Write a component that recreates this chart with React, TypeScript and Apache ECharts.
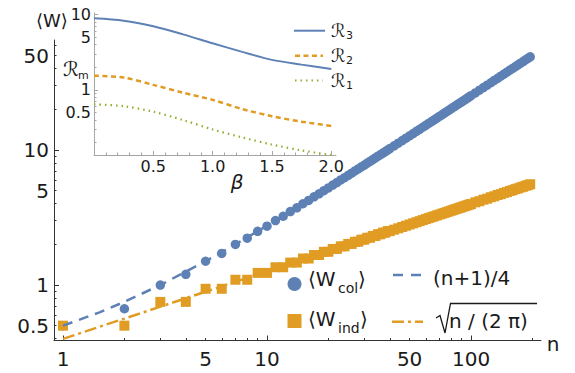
import React, { useEffect, useRef } from 'react';
import * as echarts from 'echarts';

// ---------- data ----------
const nValues = [
  1, 2, 3, 4, 5, 6, 7, 8, 9, 10, 11, 12, 13, 14, 15, 16, 17, 18, 19, 20,
  21, 22, 23, 24, 25, 26, 27, 28, 29, 30, 31, 32, 33, 34, 35, 36, 37, 38, 39, 40,
  42, 44, 46, 48, 50, 52, 54, 56, 58, 60, 62, 64, 66, 68, 70, 72, 74, 76, 78, 80,
  82, 84, 86, 88, 90, 92, 94, 96, 98, 100,
  105, 110, 115, 120, 125, 130, 135, 140, 145, 150, 155, 160, 165, 170, 175, 180, 185, 190, 195,
];
const wCol = [
  0.5, 0.667, 1, 1.2, 1.5, 1.714, 2, 2.222, 2.5, 2.727, 3, 3.231, 3.5, 3.733, 4, 4.235, 4.5, 4.737, 5, 5.238,
  5.5, 5.739, 6, 6.24, 6.5, 6.741, 7, 7.241, 7.5, 7.742, 8, 8.242, 8.5, 8.743, 9, 9.243, 9.5, 9.744, 10, 10.244,
  10.744, 11.244, 11.745, 12.245, 12.745, 13.245, 13.745, 14.246, 14.746, 15.246, 15.746, 16.246, 16.746, 17.246, 17.746,
  18.247, 18.747, 19.247, 19.747, 20.247, 20.747, 21.247, 21.747, 22.247, 22.747, 23.247, 23.747, 24.247, 24.747, 25.248,
  26.5, 27.748, 29, 30.248, 31.5, 32.748, 34, 35.248, 36.5, 37.748, 39, 40.248, 41.5, 42.749, 44, 45.249, 46.5, 47.749, 49,
];
const wInd = [
  0.5, 0.5, 0.75, 0.75, 0.938, 0.938, 1.094, 1.094, 1.23, 1.23, 1.354, 1.354, 1.466, 1.466, 1.571, 1.571, 1.669, 1.669, 1.762, 1.762,
  1.85, 1.85, 1.934, 1.934, 2.015, 2.015, 2.092, 2.092, 2.167, 2.167, 2.239, 2.239, 2.309, 2.309, 2.377, 2.377, 2.443, 2.443, 2.507, 2.507,
  2.57, 2.631, 2.691, 2.75, 2.807, 2.863, 2.918, 2.972, 3.025, 3.077, 3.129, 3.179, 3.229, 3.278, 3.326,
  3.374, 3.42, 3.467, 3.512, 3.557, 3.602, 3.646, 3.689, 3.732, 3.774, 3.816, 3.858, 3.899, 3.939, 3.979,
  4.098, 4.175, 4.288, 4.361, 4.469, 4.54, 4.644, 4.712, 4.812, 4.878, 4.975, 5.038, 5.132, 5.194, 5.285, 5.345, 5.434, 5.492, 5.578,
];
const fitN = [1, 1.5, 2, 3, 5, 7, 10, 20, 50, 100, 195];
const fitCol = [0.5, 0.625, 0.75, 1, 1.5, 2, 2.75, 5.25, 12.75, 25.25, 49];
const fitInd = [0.399, 0.489, 0.564, 0.691, 0.892, 1.056, 1.262, 1.784, 2.821, 3.989, 5.571];

const xTickLabels = [1, 5, 10, 50, 100];
const xMajorTicks = [1, 10, 100];
const xMinorTicks = [2, 3, 4, 5, 6, 7, 8, 9, 20, 30, 40, 50, 60, 70, 80, 90, 200];
const yTickLabels = [0.5, 1, 5, 10, 50];
const yMajorTicks = [1, 10];
const yMinorTicks = [0.4, 0.5, 0.6, 0.7, 0.8, 0.9, 2, 3, 4, 5, 6, 7, 8, 9, 20, 30, 40, 50, 60];

const beta = [0, 0.25, 0.5, 0.75, 1.0, 1.25, 1.5, 1.75, 2.0];
const r3 = [8.93, 8.3, 7.0, 5.47, 4.16, 3.2, 2.51, 2.17, 1.9];
const r2 = [1.55, 1.46, 1.17, 0.92, 0.74, 0.558, 0.449, 0.38, 0.333];
const r1 = [0.646, 0.61, 0.515, 0.4, 0.3, 0.235, 0.189, 0.158, 0.137];
const insetXLabels = [0.5, 1, 1.5, 2];
const insetXMinor = [0.1, 0.2, 0.3, 0.4, 0.6, 0.7, 0.8, 0.9, 1.1, 1.2, 1.3, 1.4, 1.6, 1.7, 1.8, 1.9];
const insetYLabels = [0.5, 1, 5, 10];
const insetYMajor = [1, 10];
const insetYMinor = [0.2, 0.3, 0.4, 0.5, 0.6, 0.7, 0.8, 0.9, 2, 3, 4, 5, 6, 7, 8, 9];

// ---------- styling ----------
const FONT = '"DejaVu Sans", sans-serif';
const BLUE = '#5E81B5';
const ORANGE = '#E19C24';
const GREEN = '#8FB032';
const TEXT = '#1a1a1a';
const AXIS = '#333333';
const INSET_AXIS = '#a6a6a6';

const lg = (v: number) => Math.log10(v);
const logFmt = (v: number) => String(Number(Math.pow(10, v).toPrecision(2)));

function axisSet(
  dim: 'x' | 'y', gridIndex: number, min: number, max: number,
  labelVals: number[], fmt: (v: number) => string, majors: number[], minors: number[],
  color: string, labelSize: number, margin: number, majorLen: number, minorLen: number,
) {
  const base: any = {
    type: 'value', gridIndex, position: dim === 'x' ? 'bottom' : 'left', min, max,
    splitLine: { show: false }, axisPointer: { show: false },
  };
  return [
    {
      ...base,
      axisLine: { show: true, onZero: false, lineStyle: { color, width: 1 } },
      axisTick: { show: true, inside: true, length: majorLen, customValues: majors, lineStyle: { color, width: 1 } },
      axisLabel: { show: true, customValues: labelVals, formatter: fmt, fontFamily: FONT, fontSize: labelSize, color: TEXT, margin },
    },
    {
      ...base,
      axisLine: { show: false, onZero: false },
      axisTick: { show: true, inside: true, length: minorLen, customValues: minors, lineStyle: { color, width: 1 } },
      axisLabel: { show: false },
    },
  ];
}

function txt(text: string, x: number, y: number, size: number, extra: any = {}) {
  return {
    type: 'text', x, y, silent: true,
    style: { text, fontFamily: FONT, fontSize: size, fill: TEXT, align: 'left', verticalAlign: 'middle', ...extra },
  };
}
function seg(x1: number, y1: number, x2: number, y2: number, stroke: string, lineWidth: number, lineDash?: number[]) {
  return { type: 'line', silent: true, shape: { x1, y1, x2, y2 }, style: { stroke, lineWidth, lineDash } };
}

export default function App() {
  const ref = useRef<HTMLDivElement>(null);
  useEffect(() => {
    const chart = echarts.init(ref.current!, null, { renderer: 'svg' });

    const mainX = axisSet('x', 0, -0.0441, 2.343, xTickLabels.map(lg), logFmt, xMajorTicks.map(lg), xMinorTicks.map(lg), AXIS, 20, 8, 5, 2.5);
    const mainY = axisSet('y', 0, -0.411, 1.815, yTickLabels.map(lg), logFmt, yMajorTicks.map(lg), yMinorTicks.map(lg), AXIS, 20, 5, 5, 2.5);
    const insX = axisSet('x', 1, 0, 2.04, insetXLabels, (v: number) => v.toFixed(1), insetXLabels, insetXMinor, INSET_AXIS, 16, 3, 4, 2.5);
    const insY = axisSet('y', 1, -0.862, 1.021, insetYLabels.map(lg), logFmt, insetYMajor.map(lg), insetYMinor.map(lg), INSET_AXIS, 16, 3, 4, 2.5);

    const option: any = {
      animation: false,
      backgroundColor: '#ffffff',
      grid: [
        { left: 54, top: 40, width: 487, height: 300.5, outerBoundsMode: 'none', containLabel: false },
        { left: 94, top: 13, width: 242, height: 142, outerBoundsMode: 'none', containLabel: false },
      ],
      xAxis: [...mainX, ...insX],
      yAxis: [...mainY, ...insY],
      series: [
        {
          type: 'line', xAxisIndex: 0, yAxisIndex: 0, symbol: 'none', silent: true, z: 3,
          data: fitN.map((n, i) => [lg(n), lg(fitCol[i])]),
          lineStyle: { color: BLUE, width: 2.5, type: [10, 7] },
        },
        {
          type: 'line', xAxisIndex: 0, yAxisIndex: 0, symbol: 'none', silent: true, z: 3,
          data: fitN.map((n, i) => [lg(n), lg(fitInd[i])]),
          lineStyle: { color: ORANGE, width: 2.5, type: [12, 4, 3, 4] },
        },
        {
          type: 'scatter', xAxisIndex: 0, yAxisIndex: 0, symbol: 'circle', symbolSize: 9.5, silent: true, z: 2,
          data: nValues.map((n, i) => [lg(n), lg(wCol[i])]),
          itemStyle: { color: BLUE, opacity: 1 },
        },
        {
          type: 'scatter', xAxisIndex: 0, yAxisIndex: 0, symbol: 'rect', symbolSize: 10, silent: true, z: 2,
          data: nValues.map((n, i) => [lg(n), lg(wInd[i])]),
          itemStyle: { color: ORANGE, opacity: 1 },
        },
        {
          type: 'line', xAxisIndex: 2, yAxisIndex: 2, symbol: 'none', silent: true, smooth: 0.3,
          data: beta.map((b, i) => [b, lg(r3[i])]),
          lineStyle: { color: BLUE, width: 2 },
        },
        {
          type: 'line', xAxisIndex: 2, yAxisIndex: 2, symbol: 'none', silent: true, smooth: 0.3,
          data: beta.map((b, i) => [b, lg(r2[i])]),
          lineStyle: { color: ORANGE, width: 2.5, type: [5, 3.5] },
        },
        {
          type: 'line', xAxisIndex: 2, yAxisIndex: 2, symbol: 'none', silent: true, smooth: 0.3,
          data: beta.map((b, i) => [b, lg(r1[i])]),
          lineStyle: { color: GREEN, width: 2.2, type: [1.5, 4] },
        },
      ],
      graphic: [
        // axis titles
        txt('\u27E8W\u27E9', 36, 20, 18),
        txt('\u211B', 63, 69, 20),
        txt('m', 78, 75, 11),
        txt('\u03B2', 237, 182, 20, { align: 'center', fontStyle: 'italic' }),
        txt('n', 553, 344, 20, { align: 'center' }),
        // inset legend
        seg(294, 30.7, 325, 30.7, BLUE, 2),
        seg(295, 55.7, 323, 55.7, ORANGE, 2.5, [5, 3.5]),
        seg(295, 80.5, 323, 80.5, GREEN, 2.2, [1.5, 4]),
        txt('\u211B', 331, 30, 18),
        txt('3', 346, 35, 11),
        txt('\u211B', 331, 55.5, 18),
        txt('2', 346, 60.5, 11),
        txt('\u211B', 331, 80.5, 18),
        txt('1', 346, 85.5, 11),
        // main legend
        { type: 'circle', silent: true, shape: { cx: 294.5, cy: 284, r: 7 }, style: { fill: BLUE } },
        { type: 'rect', silent: true, shape: { x: 287.5, y: 314, width: 14, height: 14 }, style: { fill: ORANGE } },
        txt('\u27E8W', 308, 279, 20),
        txt('col', 338, 288, 14),
        txt('\u27E9', 358, 279, 20),
        txt('\u27E8W', 308, 319, 20),
        txt('ind', 338, 328, 14),
        txt('\u27E9', 360, 319, 20),
        seg(393, 275, 423, 275, BLUE, 2.5, [10, 8]),
        seg(392, 321.7, 423, 321.7, ORANGE, 2.5, [12, 4, 3, 4]),
        txt('(n+1)/4', 433, 278, 20),
        {
          type: 'polyline', silent: true,
          shape: { points: [[436, 318], [440, 315.5], [445, 333], [450.5, 303.5], [537, 303.5]] },
          style: { stroke: TEXT, lineWidth: 1.3, fill: 'none' },
        },
        txt('n / (2 \u03C0)', 449, 321, 20),
      ],
    };
    chart.setOption(option);
    return () => chart.dispose();
  }, []);
  return <div ref={ref} style={{ position: 'fixed', left: 0, top: 0, width: 575, height: 373 }} />;
}
